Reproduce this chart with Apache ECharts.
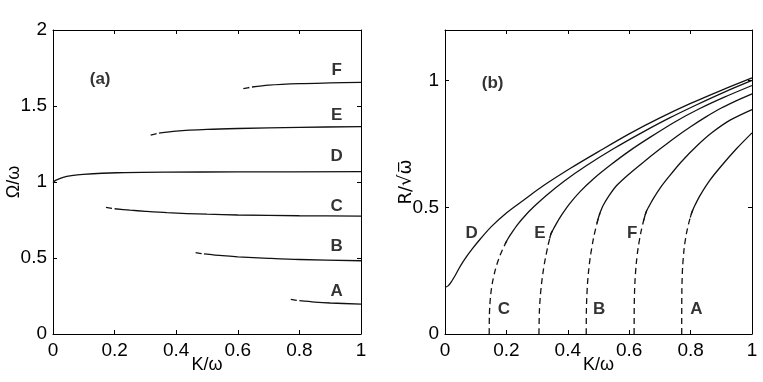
<!DOCTYPE html>
<html>
<head>
<meta charset="utf-8">
<script src="https://cdn.jsdelivr.net/npm/echarts@6/dist/echarts.min.js"></script>
<style>
  html, body { margin: 0; padding: 0; background: #fff; }
  #main { width: 763px; height: 382px; }
</style>
</head>
<body>
<div id="main"></div>
<script>
// panel (a): Omega/omega vs K/omega, short dashed start then solid
var aA_dash = [[0.772, 0.228], [0.80, 0.219]]
var aA_solid = [[0.80, 0.219], [0.85, 0.210], [0.90, 0.204], [1.0, 0.197]]
var aB_dash = [[0.463, 0.535], [0.49, 0.527]]
var aB_solid = [[0.49, 0.527], [0.55, 0.515], [0.60, 0.508], [0.70, 0.498], [0.80, 0.490], [1.0, 0.482]]
var aC_dash = [[0.172, 0.833], [0.20, 0.824]]
var aC_solid = [[0.20, 0.824], [0.25, 0.815], [0.30, 0.807], [0.37, 0.798], [0.50, 0.788], [0.60, 0.783], [0.80, 0.778], [1.0, 0.776]]
var aD_solid = [[0.0, 0.997], [0.01, 1.012], [0.033, 1.031], [0.06, 1.042], [0.098, 1.050], [0.207, 1.061], [0.37, 1.065], [0.60, 1.066], [1.0, 1.068]]
var aE_dash = [[0.317, 1.309], [0.344, 1.322]]
var aE_solid = [[0.344, 1.322], [0.40, 1.335], [0.50, 1.346], [0.60, 1.352], [0.80, 1.360], [1.0, 1.364]]
var aF_dash = [[0.618, 1.614], [0.646, 1.625]]
var aF_solid = [[0.646, 1.625], [0.70, 1.637], [0.80, 1.647], [0.90, 1.652], [1.0, 1.656]]

// panel (b): R/sqrt(omega) vs K/omega
var bD_solid = [[0, 0.184], [0.01, 0.19], [0.02, 0.205], [0.035, 0.235], [0.05, 0.268], [0.07, 0.305], [0.09, 0.338], [0.115, 0.375], [0.15, 0.423], [0.2, 0.478], [0.26, 0.532], [0.32, 0.585], [0.41, 0.655], [0.5, 0.72], [0.6, 0.79], [0.7, 0.853], [0.8, 0.91], [0.9, 0.962], [1.0, 1.011]]
var bC_dash = [[0.144, 0], [0.1445, 0.07], [0.146, 0.114], [0.149, 0.157], [0.154, 0.2], [0.164, 0.254], [0.176, 0.30], [0.188, 0.335], [0.196, 0.355], [0.2, 0.365]]
var bC_solid = [[0.2, 0.365], [0.205, 0.376], [0.215, 0.395], [0.235, 0.43], [0.26, 0.466], [0.29, 0.503], [0.33, 0.547], [0.39, 0.605], [0.46, 0.664], [0.55, 0.732], [0.64, 0.794], [0.73, 0.852], [0.82, 0.905], [0.91, 0.955], [1.0, 1.001]]
var bE_dash = [[0.306, 0], [0.3075, 0.091], [0.31, 0.142], [0.314, 0.194], [0.32, 0.249], [0.326, 0.293], [0.335, 0.346], [0.341, 0.377], [0.345, 0.395]]
var bE_solid = [[0.345, 0.395], [0.35, 0.407], [0.36, 0.43], [0.38, 0.47], [0.405, 0.513], [0.44, 0.562], [0.484, 0.613], [0.54, 0.668], [0.6, 0.722], [0.67, 0.778], [0.75, 0.838], [0.83, 0.89], [0.91, 0.935], [1.0, 0.981]]
var bB_dash = [[0.46, 0], [0.4605, 0.09], [0.4615, 0.135], [0.464, 0.195], [0.467, 0.24], [0.473, 0.302], [0.484, 0.38], [0.495, 0.437], [0.5, 0.46]]
var bB_solid = [[0.5, 0.46], [0.505, 0.478], [0.515, 0.507], [0.535, 0.547], [0.56, 0.587], [0.6, 0.632], [0.65, 0.682], [0.7, 0.73], [0.75, 0.776], [0.8, 0.818], [0.85, 0.857], [0.9, 0.892], [0.95, 0.921], [1.0, 0.948]]
var bF_dash = [[0.616, 0], [0.6165, 0.12], [0.6175, 0.17], [0.619, 0.212], [0.623, 0.278], [0.629, 0.339], [0.638, 0.401], [0.647, 0.448], [0.652, 0.47]]
var bF_solid = [[0.652, 0.47], [0.657, 0.487], [0.665, 0.505], [0.68, 0.537], [0.7, 0.575], [0.73, 0.622], [0.77, 0.68], [0.82, 0.742], [0.87, 0.795], [0.93, 0.845], [1.0, 0.886]]
var bA_dash = [[0.771, 0], [0.7712, 0.12], [0.7715, 0.168], [0.7725, 0.221], [0.774, 0.265], [0.779, 0.338], [0.786, 0.394], [0.793, 0.433], [0.799, 0.46], [0.803, 0.476]]
var bA_solid = [[0.803, 0.476], [0.807, 0.489], [0.815, 0.51], [0.83, 0.545], [0.863, 0.607], [0.9, 0.663], [0.95, 0.732], [1.0, 0.794]]

// curve letters
var aLabelNames = ['(a)', 'F', 'E', 'D', 'C', 'B', 'A']
var aLabelX = [0.153, 0.921, 0.921, 0.921, 0.921, 0.921, 0.921]
var aLabelY = [1.675, 1.737, 1.44, 1.166, 0.842, 0.574, 0.283]
var bLabelNames = ['(b)', 'D', 'E', 'F', 'C', 'B', 'A']
var bLabelX = [0.155, 0.087, 0.309, 0.61, 0.192, 0.502, 0.819]
var bLabelY = [0.99, 0.397, 0.397, 0.397, 0.097, 0.097, 0.097]

var FONT = 'Liberation Sans, Arial, Helvetica, sans-serif'
var chart = echarts.init(document.getElementById('main'))

function xAx (grid, pos, withLabels) {
  return {
    type: 'value', gridIndex: grid, position: pos, min: 0, max: 1, interval: 0.2,
    name: withLabels ? 'K/ω' : '',
    nameLocation: 'middle', nameGap: 22, nameMoveOverlap: false,
    nameTextStyle: { color: '#000', fontSize: 18, fontFamily: FONT },
    axisLine: { show: true, onZero: false, lineStyle: { color: '#000', width: 1 } },
    axisTick: { show: true, inside: true, length: 4, lineStyle: { color: '#000' } },
    axisLabel: { show: withLabels, color: '#000', fontSize: 19, fontFamily: FONT, margin: 7 },
    splitLine: { show: false }
  }
}

function yAx (grid, pos, max, interval, name, nameFont) {
  return {
    type: 'value', gridIndex: grid, position: pos, min: 0, max: max, interval: interval,
    name: name || '',
    nameLocation: 'middle', nameGap: 30, nameRotate: 90, nameMoveOverlap: false,
    nameTextStyle: { color: '#000', fontSize: 18, fontFamily: nameFont || FONT },
    axisLine: { show: true, onZero: false, lineStyle: { color: '#000', width: 1 } },
    axisTick: { show: true, inside: true, length: 4, lineStyle: { color: '#000' } },
    axisLabel: { show: !!name, color: '#000', fontSize: 19, fontFamily: FONT, margin: 6, showMaxLabel: max === 2 },
    splitLine: { show: false }
  }
}

function curve (data, xi, yi, dashed) {
  return {
    type: 'line', xAxisIndex: xi, yAxisIndex: yi, data: data,
    smooth: 0.3, symbol: 'none', silent: true,
    lineStyle: { color: '#111', width: 1.3, type: dashed ? [6, 4] : 'solid' }
  }
}

// dashed start + solid rest; the two pieces share one neighbour point each
// so the smoothed tangents meet without a kink
function branch (dash, solid, xi, yi) {
  return [
    curve(dash.concat([solid[1]]), xi, yi, true),
    curve([dash[dash.length - 2]].concat(solid), xi, yi, false)
  ]
}

function letters (names, xs, ys, xi, yi) {
  return {
    type: 'scatter', xAxisIndex: xi, yAxisIndex: yi, symbolSize: 0, silent: true,
    data: names.map(function (n, i) { return { name: n, value: [xs[i], ys[i]] } }),
    label: {
      show: true, position: 'inside', formatter: '{b}',
      color: '#000', fontSize: 17, fontWeight: 'bold', fontFamily: FONT
    }
  }
}

var series = [
  curve(aA_dash, 0, 0, true), curve(aA_solid, 0, 0, false),
  curve(aB_dash, 0, 0, true), curve(aB_solid, 0, 0, false),
  curve(aC_dash, 0, 0, true), curve(aC_solid, 0, 0, false),
  curve(aD_solid, 0, 0, false),
  curve(aE_dash, 0, 0, true), curve(aE_solid, 0, 0, false),
  curve(aF_dash, 0, 0, true), curve(aF_solid, 0, 0, false),
  curve(bD_solid, 2, 2, false)
].concat(
  branch(bC_dash, bC_solid, 2, 2),
  branch(bE_dash, bE_solid, 2, 2),
  branch(bB_dash, bB_solid, 2, 2),
  branch(bF_dash, bF_solid, 2, 2),
  branch(bA_dash, bA_solid, 2, 2),
  [letters(aLabelNames, aLabelX, aLabelY, 0, 0), letters(bLabelNames, bLabelX, bLabelY, 2, 2)]
)

var option = {
  backgroundColor: '#fff',
  animation: false,
  grid: [
    { left: 53, top: 30, width: 308, height: 304, outerBoundsMode: 'none' },
    { left: 445, top: 30, width: 307, height: 304, outerBoundsMode: 'none' }
  ],
  xAxis: [xAx(0, 'bottom', true), xAx(0, 'top', false), xAx(1, 'bottom', true), xAx(1, 'top', false)],
  yAxis: [
    yAx(0, 'left', 2, 0.5, 'Ω/ω'), yAx(0, 'right', 2, 0.5, ''),
    yAx(1, 'left', 1.2, 0.5, 'R/√ω̅', 'DejaVu Sans'), yAx(1, 'right', 1.2, 0.5, '')
  ],
  series: series
}
chart.setOption(option)
</script>
</body>
</html>
